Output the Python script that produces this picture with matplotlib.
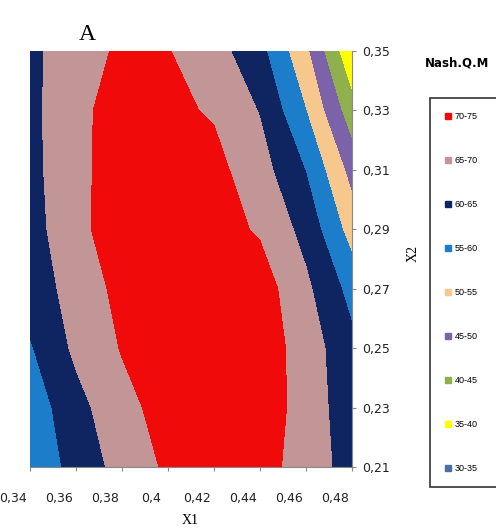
import matplotlib
matplotlib.use('Agg')
import matplotlib.pyplot as plt
import matplotlib.transforms as mtransforms
from matplotlib.ticker import FuncFormatter
from matplotlib.lines import Line2D
import numpy as np

# grid
x1 = [0.34, 0.36, 0.38, 0.40, 0.42, 0.44, 0.46, 0.48]
x2 = [0.21, 0.23, 0.25, 0.27, 0.29, 0.31, 0.33, 0.35]
# one row per x2 value, one column per x1 value
nash_qm = [
    [56.0, 61.8, 66.8, 70.8, 73.0, 72.1, 67.6, 63.0],
    [57.0, 63.3, 68.4, 72.0, 74.0, 73.0, 67.8, 62.0],
    [59.5, 66.0, 70.3, 73.0, 74.0, 73.0, 67.6, 61.3],
    [62.3, 66.9, 71.5, 73.0, 73.5, 72.5, 66.0, 58.2],
    [62.8, 68.8, 72.4, 72.5, 72.0, 69.4, 63.3, 52.8],
    [63.4, 68.8, 72.2, 72.0, 71.5, 67.0, 59.8, 48.1],
    [63.6, 68.8, 72.0, 71.0, 69.5, 64.7, 55.0, 41.9],
    [64.0, 67.3, 71.0, 70.2, 67.0, 61.5, 50.9, 35.5],
]
levels = [30, 35, 40, 45, 50, 55, 60, 65, 70, 75]
band_labels = ['30-35', '35-40', '40-45', '45-50', '50-55',
               '55-60', '60-65', '65-70', '70-75']
band_colors = ['#4A6FA5', '#FFFF00', '#8FB04C', '#7C62A8', '#F6C88E',
               '#1C7DCB', '#0E2561', '#C29696', '#F00A0A']

fig = plt.figure(figsize=(4.96, 5.31), dpi=100)
ax = fig.add_axes([30/496, 64/531, 322/496, 416/531])

ax.contourf(x1, x2, np.array(nash_qm), levels=levels, colors=band_colors)
ax.set_xlim(0.34, 0.48)
ax.set_ylim(0.21, 0.35)

ax.yaxis.tick_right()
ax.set_xticks(x1)
ax.set_yticks(x2)
comma = FuncFormatter(lambda v, p: ('%g' % round(v, 2)).replace('.', ','))
ax.xaxis.set_major_formatter(comma)
ax.yaxis.set_major_formatter(comma)
ax.tick_params(axis='both', direction='out', length=3, color='#888888',
               labelsize=9, labelcolor='#222222')
ax.tick_params(axis='y', pad=4)
ax.tick_params(axis='x', pad=15)

# x labels sit left of their ticks in the original
shift = mtransforms.ScaledTranslation(-17/100, 0, fig.dpi_scale_trans)
for lab in ax.get_xticklabels():
    lab.set_transform(lab.get_transform() + shift)

for s in ['top', 'left']:
    ax.spines[s].set_visible(False)
for s in ['bottom', 'right']:
    ax.spines[s].set_color('#888888')

fig.text(87/496, 1 - 34/531, 'A', family='Liberation Serif', fontsize=17,
         ha='center', va='center')
fig.text(190/496, 1 - 520/531, 'X1', family='Liberation Serif', fontsize=10,
         ha='center', va='center')
fig.text(413/496, 1 - 253/531, 'X2', family='Liberation Serif', fontsize=10,
         ha='center', va='center', rotation=90)
fig.text(457/496, 1 - 63/531, 'Nash.Q.M', fontsize=8.5, fontweight='bold',
         ha='center', va='center')

handles = [Line2D([], [], ls='', marker='s', markersize=5, color=c)
           for c in band_colors[::-1]]
leg = fig.legend(handles, band_labels[::-1], loc='upper left',
                 bbox_to_anchor=(430/496, 1 - 98/531, 120/496, 0.0),
                 mode='expand', borderaxespad=0, fancybox=False,
                 framealpha=1, edgecolor='#333333', handlelength=0.8,
                 handletextpad=0.3, labelspacing=3.87, borderpad=1.6,
                 prop={'family': 'Liberation Sans', 'size': 6.5})
leg.get_frame().set_linewidth(1.2)

fig.savefig('out.png', dpi=100)
